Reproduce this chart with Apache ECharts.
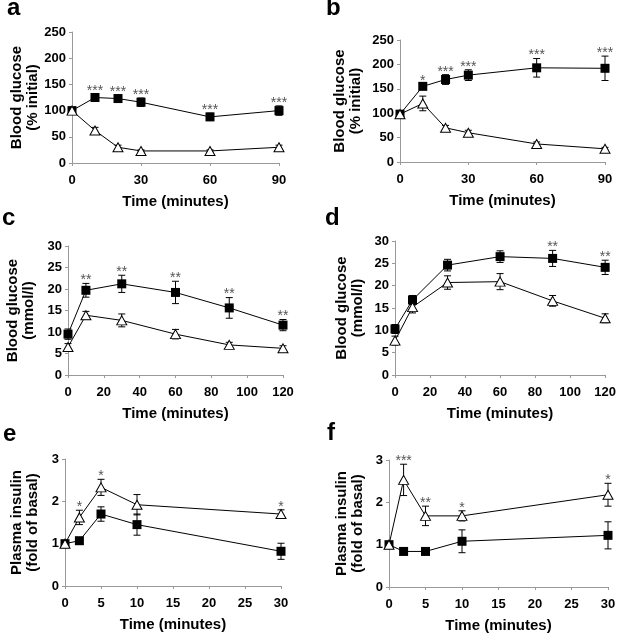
<!DOCTYPE html>
<html>
<head>
<meta charset="utf-8">
<script src="https://cdn.jsdelivr.net/npm/echarts@6/dist/echarts.min.js"></script>
<style>
  html, body { margin: 0; padding: 0; background: #fff; }
  #chart { width: 619px; height: 635px; }
</style>
</head>
<body>
<div id="chart"></div>
<script>
// panel a / b : blood glucose, % initial
const timeAB = [0, 10, 20, 30, 60, 90];
const aSquare = [100, 125, 123, 116, 88, 100];
const aSquareErr = [3, 7, 7, 8, 7, 9];
const aTriangle = [100, 62, 30, 23, 23, 30];
const aTriangleErr = [3, 6, 4, 2, 2, 4];
const aStars = ['', '***', '***', '***', '***', '***'];

const bSquare = [98, 155, 169, 178, 193, 192];
const bSquareErr = [5, 5, 10, 11, 19, 25];
const bTriangle = [98, 120, 70, 60, 37, 27];
const bTriangleErr = [5, 15, 5, 5, 4, 3];
const bStars = ['', '*', '***', '***', '***', '***'];

// panel c / d : blood glucose, mmol/l
const timeCD = [0, 10, 30, 60, 90, 120];
const cSquare = [9.5, 19.7, 21.2, 19.2, 15.6, 11.6];
const cSquareErr = [1.2, 1.6, 2.0, 2.6, 2.4, 1.3];
const cTriangle = [6.5, 13.9, 12.7, 9.5, 7.0, 6.2];
const cTriangleErr = [0.8, 0.9, 1.5, 1.1, 0.6, 0.6];
const cStars = ['', '**', '**', '**', '**', '**'];

const dSquare = [10.3, 16.8, 24.6, 26.5, 26.1, 24.1];
const dSquareErr = [1.0, 1.0, 1.3, 1.3, 1.8, 1.6];
const dTriangle = [7.7, 15.2, 20.7, 20.9, 16.6, 12.7];
const dTriangleErr = [1.0, 1.3, 1.5, 1.8, 1.2, 1.0];
const dStars = ['', '', '', '', '**', '**'];

// panel e / f : plasma insulin, fold of basal
const timeEF = [0, 2, 5, 10, 30];
const eSquare = [1.0, 1.07, 1.70, 1.45, 0.82];
const eSquareErr = [0.03, 0.03, 0.17, 0.25, 0.19];
const eTriangle = [1.0, 1.62, 2.33, 1.92, 1.70];
const eTriangleErr = [0.03, 0.17, 0.19, 0.24, 0.1];
const eStars = ['', '*', '*', '', '*'];

const fSquare = [1.0, 0.84, 0.84, 1.08, 1.22];
const fSquareErr = [0.03, 0.05, 0.05, 0.27, 0.32];
const fTriangle = [1.0, 2.53, 1.68, 1.68, 2.18];
const fTriangleErr = [0.03, 0.37, 0.23, 0.12, 0.27];
const fStars = ['', '***', '**', '*', '*'];

const FONT = '"Liberation Sans", Arial, sans-serif';

const panels = [
  { letter: 'a', grid: { left: 72, top: 32, width: 207, height: 131 }, x: [0, 90, 30], y: [0, 250, 50], yGap: 31,
    yName: 'Blood glucose\n(% initial)', t: timeAB, sq: aSquare, sqE: aSquareErr, tr: aTriangle, trE: aTriangleErr, stars: aStars, starOn: 'sq', lx: 7, ly: 18 },
  { letter: 'b', grid: { left: 400, top: 40, width: 205, height: 122 }, x: [0, 90, 30], y: [0, 250, 50], yGap: 36,
    yName: 'Blood glucose\n(% initial)', t: timeAB, sq: bSquare, sqE: bSquareErr, tr: bTriangle, trE: bTriangleErr, stars: bStars, starOn: 'sq', lx: 326, ly: 18 },
  { letter: 'c', grid: { left: 68, top: 246, width: 215, height: 129 }, x: [0, 120, 20], y: [0, 30, 5], yGap: 31,
    yName: 'Blood glucose\n(mmol/l)', t: timeCD, sq: cSquare, sqE: cSquareErr, tr: cTriangle, trE: cTriangleErr, stars: cStars, starOn: 'sq', lx: 2, ly: 228 },
  { letter: 'd', grid: { left: 395, top: 241, width: 213, height: 134 }, x: [0, 120, 20], y: [0, 30, 5], yGap: 29,
    yName: 'Blood glucose\n(mmol/l)', t: timeCD, sq: dSquare, sqE: dSquareErr, tr: dTriangle, trE: dTriangleErr, stars: dStars, starOn: 'sq', lx: 325, ly: 228 },
  { letter: 'e', grid: { left: 65, top: 459, width: 216, height: 127 }, x: [0, 30, 5], y: [0, 3, 1], yGap: 24,
    yName: 'Plasma insulin\n(fold of basal)', t: timeEF, sq: eSquare, sqE: eSquareErr, tr: eTriangle, trE: eTriangleErr, stars: eStars, starOn: 'tr', lx: 3, ly: 444 },
  { letter: 'f', grid: { left: 389, top: 460, width: 219, height: 127 }, x: [0, 30, 5], y: [0, 3, 1], yGap: 23,
    yName: 'Plasma insulin\n(fold of basal)', t: timeEF, sq: fSquare, sqE: fSquareErr, tr: fTriangle, trE: fTriangleErr, stars: fStars, starOn: 'tr', lx: 327, ly: 443 }
];

function errorBars(gi, xs, means, errs, stars) {
  return {
    type: 'custom',
    xAxisIndex: gi,
    yAxisIndex: gi,
    z: 1,
    silent: true,
    encode: { x: 0, y: 1 },
    data: xs.map((x, i) => [x, means[i], errs[i]]),
    renderItem: function (params, api) {
      const x = api.value(0), m = api.value(1), e = api.value(2);
      const top = api.coord([x, m + e]);
      const bot = api.coord([x, m - e]);
      const w = 3.5;
      const st = { stroke: '#000', lineWidth: 1 };
      const children = [
        { type: 'line', shape: { x1: top[0], y1: top[1], x2: bot[0], y2: bot[1] }, style: st },
        { type: 'line', shape: { x1: top[0] - w, y1: top[1], x2: top[0] + w, y2: top[1] }, style: st },
        { type: 'line', shape: { x1: bot[0] - w, y1: bot[1], x2: bot[0] + w, y2: bot[1] }, style: st }
      ];
      const s = stars ? stars[params.dataIndex] : '';
      if (s) {
        children.push({
          type: 'text',
          style: { text: s, x: top[0], y: top[1] + 4, align: 'center', verticalAlign: 'bottom',
                   fill: '#555', font: '14px ' + FONT }
        });
      }
      return { type: 'group', children: children };
    }
  };
}

const grids = [], xAxes = [], yAxes = [], series = [], graphics = [];

panels.forEach((p, gi) => {
  grids.push(p.grid);
  xAxes.push({
    type: 'value', gridIndex: gi, min: p.x[0], max: p.x[1], interval: p.x[2],
    name: 'Time (minutes)', nameLocation: 'middle', nameGap: 31,
    nameTextStyle: { color: '#000', fontFamily: FONT, fontWeight: 'bold', fontSize: 15 },
    axisLine: { show: true, lineStyle: { color: '#999', width: 1 } },
    axisTick: { show: true, length: 3, lineStyle: { color: '#999' } },
    axisLabel: { color: '#000', fontFamily: FONT, fontWeight: 'bold', fontSize: 13, margin: 11 },
    splitLine: { show: false }
  });
  yAxes.push({
    type: 'value', gridIndex: gi, min: p.y[0], max: p.y[1], interval: p.y[2],
    name: p.yName, nameLocation: 'middle', nameGap: p.yGap, nameRotate: 90,
    nameTextStyle: { color: '#000', fontFamily: FONT, fontWeight: 'bold', fontSize: 15, lineHeight: 16 },
    axisLine: { show: true, lineStyle: { color: '#999', width: 1 } },
    axisTick: { show: true, length: 3, lineStyle: { color: '#999' } },
    axisLabel: { color: '#000', fontFamily: FONT, fontWeight: 'bold', fontSize: 13, margin: 6 },
    splitLine: { show: false }
  });

  series.push(errorBars(gi, p.t, p.sq, p.sqE, p.starOn === 'sq' ? p.stars : null));
  series.push(errorBars(gi, p.t, p.tr, p.trE, p.starOn === 'tr' ? p.stars : null));

  series.push({
    type: 'line', xAxisIndex: gi, yAxisIndex: gi, z: 3,
    data: p.t.map((x, i) => [x, p.sq[i]]),
    symbol: 'rect', symbolSize: 9,
    itemStyle: { color: '#000' },
    lineStyle: { color: '#000', width: 1 },
    animation: false
  });
  series.push({
    type: 'line', xAxisIndex: gi, yAxisIndex: gi, z: 4,
    data: p.t.map((x, i) => [x, p.tr[i]]),
    symbol: 'triangle', symbolSize: [10, 9], showAllSymbol: true,
    itemStyle: { color: '#fff', borderColor: '#000', borderWidth: 1 },
    lineStyle: { color: '#000', width: 1 },
    animation: false
  });

  graphics.push({
    type: 'text', left: p.lx, top: p.ly - 22,
    style: { text: p.letter, font: 'bold 24px ' + FONT, fill: '#000' }
  });
});

const chart = echarts.init(document.getElementById('chart'), null, { renderer: 'canvas' });
chart.setOption({
  animation: false,
  backgroundColor: '#fff',
  grid: grids,
  xAxis: xAxes,
  yAxis: yAxes,
  series: series,
  graphic: graphics
});
</script>
</body>
</html>
